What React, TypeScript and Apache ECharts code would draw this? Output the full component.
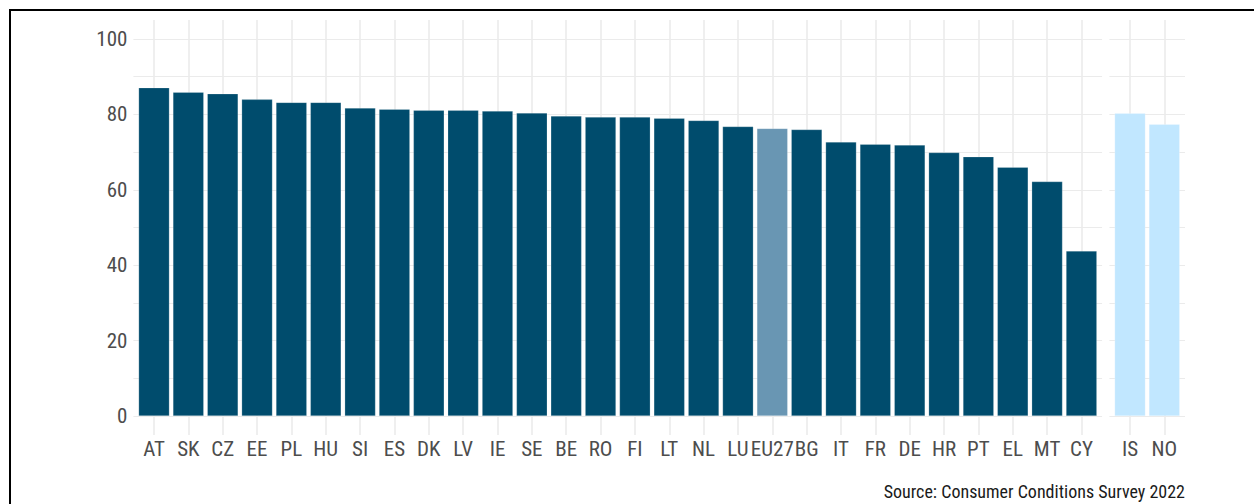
import React, { useEffect, useRef } from "react";
import * as echarts from "echarts";

const euCountries = ["AT","SK","CZ","EE","PL","HU","SI","ES","DK","LV","IE","SE","BE","RO","FI","LT","NL","LU","EU27","BG","IT","FR","DE","HR","PT","EL","MT","CY"];
const euValues = [87.1,85.9,85.5,84.0,83.2,83.2,81.7,81.4,81.1,81.1,80.9,80.4,79.6,79.3,79.3,79.0,78.4,76.8,76.3,76.0,72.7,72.1,71.9,69.9,68.8,66.0,62.2,43.8];
const otherCountries = ["IS","NO"];
const otherValues = [80.3,77.4];
const sourceText = "Source: Consumer Conditions Survey 2022";

const FONT = "'Roboto Condensed', 'DejaVu Sans Condensed', 'Liberation Sans Narrow', Roboto, sans-serif";
const DARK = "#004c6d";
const EU = "#6996b3";
const LIGHT = "#c1e7ff";
const GRID = "#ebebeb";
const LABEL = "#4d4d4d";

const UNIT = 34.35;
const C1 = 154; // first category center
const C2 = 1130; // IS center
const Y0 = 416;
const Y100 = 39;
const PTOP = 20;
const PBOT = 435;

export default function App() {
  const ref = useRef<HTMLDivElement>(null);
  useEffect(() => {
    if (!ref.current) return;
    const chart = echarts.init(ref.current, null, { renderer: "svg" });
    const n1 = euCountries.length;
    const n2 = otherCountries.length;
    const p1L = C1 - 0.6 * UNIT;
    const p1R = C1 + (n1 - 1 + 0.6) * UNIT;
    const p2L = C2 - 0.6 * UNIT;
    const p2R = C2 + (n2 - 1 + 0.6) * UNIT;
    const H = 504;

    const grids = [
      { left: p1L, width: p1R - p1L, top: Y100, height: Y0 - Y100 },
      { left: p2L, width: p2R - p2L, top: Y100, height: Y0 - Y100 },
      { left: C1, width: (n1 - 1) * UNIT, top: PTOP, height: PBOT - PTOP },
      { left: C2, width: (n2 - 1) * UNIT, top: PTOP, height: PBOT - PTOP },
      { left: C1 - UNIT / 2, width: n1 * UNIT, top: Y100, height: Y0 - Y100 },
      { left: C2 - UNIT / 2, width: n2 * UNIT, top: Y100, height: Y0 - Y100 },
    ].map((g) => ({ ...g, containLabel: false }));

    const hAxis = (gi: number, showLabels: boolean) => ({
      type: "value",
      gridIndex: gi,
      min: 0,
      max: 100,
      interval: 20,
      axisLine: { show: false },
      axisTick: { show: false },
      axisLabel: {
        show: showLabels,
        fontFamily: FONT,
        fontSize: 21,
        color: LABEL,
        margin: 6,
      },
      splitLine: { show: true, lineStyle: { color: GRID, width: 1.2 } },
      minorTick: { show: false, splitNumber: 2 },
      minorSplitLine: { show: true, lineStyle: { color: GRID, width: 1.2 } },
    });

    const hiddenX = (gi: number) => ({
      type: "value",
      gridIndex: gi,
      min: 0,
      max: 1,
      show: false,
    });

    const vAxisX = (gi: number, data: string[]) => ({
      type: "category",
      gridIndex: gi,
      data,
      boundaryGap: false,
      axisLine: { show: false },
      axisTick: { show: false },
      axisLabel: { show: false },
      splitLine: { show: true, interval: 0, lineStyle: { color: GRID, width: 1.6 } },
    });
    const hiddenY = (gi: number) => ({
      type: "value",
      gridIndex: gi,
      min: 0,
      max: 1,
      show: false,
    });

    const barX = (gi: number, data: string[]) => ({
      type: "category",
      gridIndex: gi,
      data,
      boundaryGap: true,
      axisLine: { show: false },
      axisTick: { show: false },
      splitLine: { show: false },
      axisLabel: {
        interval: 0,
        fontFamily: FONT,
        fontSize: 21,
        color: LABEL,
        margin: 22,
      },
    });
    const barY = (gi: number) => ({
      type: "value",
      gridIndex: gi,
      min: 0,
      max: 100,
      show: false,
    });

    const option = {
      animation: false,
      backgroundColor: "#ffffff",
      grid: grids,
      xAxis: [
        hiddenX(0),
        hiddenX(1),
        vAxisX(2, euCountries),
        vAxisX(3, otherCountries),
        barX(4, euCountries),
        barX(5, otherCountries),
      ],
      yAxis: [
        hAxis(0, true),
        hAxis(1, false),
        hiddenY(2),
        hiddenY(3),
        barY(4),
        barY(5),
      ],
      series: [
        {
          type: "bar",
          xAxisIndex: 4,
          yAxisIndex: 4,
          data: euValues.map((v, i) => ({
            value: v,
            itemStyle: { color: euCountries[i] === "EU27" ? EU : DARK },
          })),
          barWidth: "90%",
          itemStyle: { borderColor: "rgba(255,255,255,0.35)", borderWidth: 0.6 },
        },
        {
          type: "bar",
          xAxisIndex: 5,
          yAxisIndex: 5,
          data: otherValues.map((v) => ({ value: v, itemStyle: { color: LIGHT } })),
          barWidth: "90%",
          itemStyle: { borderColor: "rgba(255,255,255,0.35)", borderWidth: 0.6 },
        },
      ],
      graphic: [
        {
          type: "rect",
          shape: { x: 10, y: 10, width: 1270, height: H + 20 },
          style: { fill: "none", stroke: "#000000", lineWidth: 2 },
          silent: true,
          z: 100,
        },
        {
          type: "text",
          x: 1185,
          y: 491,
          style: {
            text: sourceText,
            fontFamily: FONT,
            fontSize: 18,
            fill: "#1a1a1a",
            align: "right",
            verticalAlign: "middle",
          },
        },
      ],
    };
    chart.setOption(option as any);
    return () => chart.dispose();
  }, []);
  return (
    <div
      ref={ref}
      style={{ position: "absolute", left: 0, top: 0, width: 1254, height: 504 }}
    />
  );
}
